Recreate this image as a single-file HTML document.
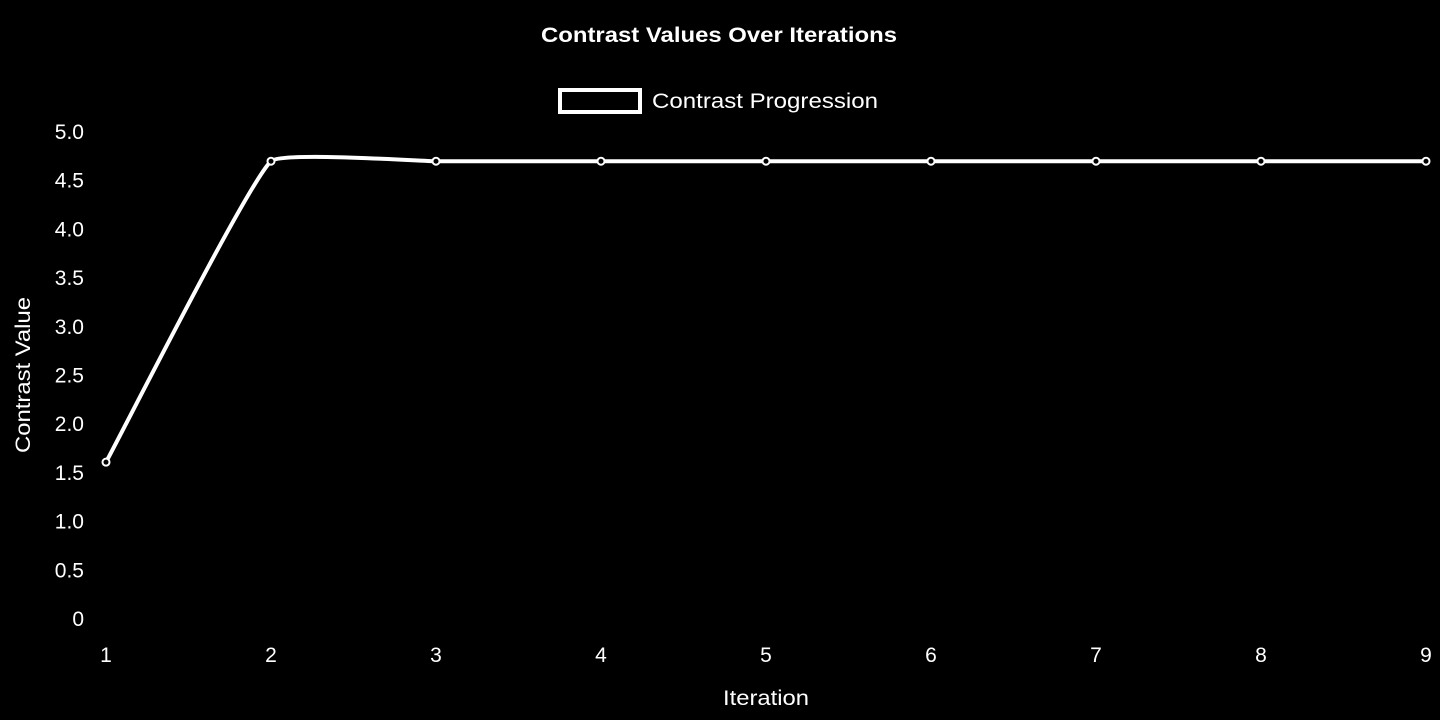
<!DOCTYPE html>
<html><head><meta charset="utf-8"><style>
html,body{margin:0;padding:0;background:#000;width:1440px;height:720px;overflow:hidden}
svg{display:block;font-family:"Liberation Sans",Arial,sans-serif}
</style></head><body>
<svg id="chart" width="1440" height="720">
<rect width="1440" height="720" fill="#000"/>
<text x="541" y="42" textLength="356" lengthAdjust="spacingAndGlyphs" fill="#fff" font-size="21" font-weight="bold">Contrast Values Over Iterations</text>
<g>
<rect x="560" y="90" width="80" height="22" fill="none" stroke="#fff" stroke-width="4"/>
<text x="652" y="108" textLength="226" lengthAdjust="spacingAndGlyphs" fill="#fff" font-size="21">Contrast Progression</text>
</g>
<text transform="translate(30,375) rotate(-90)" text-anchor="middle" textLength="156" lengthAdjust="spacingAndGlyphs" fill="#fff" font-size="21">Contrast Value</text>
<text x="766" y="705" text-anchor="middle" textLength="86" lengthAdjust="spacingAndGlyphs" fill="#fff" font-size="21">Iteration</text>
<g id="yticks"></g><g id="xticks"></g><g id="series"></g>
</svg>
<script>
const categories=[1,2,3,4,5,6,7,8,9];
const contrastValues=[1.61,4.7,4.7,4.7,4.7,4.7,4.7,4.7,4.7];
const yTickLabels=["0","0.5","1.0","1.5","2.0","2.5","3.0","3.5","4.0","4.5","5.0"];
const yTickValues=[0,0.5,1,1.5,2,2.5,3,3.5,4,4.5,5];
const X0=106,X1=1426,Y0=619,Y1=132,YMAX=5;
function xs(i){return X0+(X1-X0)*i/(categories.length-1);}
function ys(v){return Y0-(Y0-Y1)*v/YMAX;}
const NS="http://www.w3.org/2000/svg";
const yt=document.getElementById('yticks'),xt=document.getElementById('xticks'),sg=document.getElementById('series');
yTickValues.forEach((v,i)=>{const t=document.createElementNS(NS,'text');
t.setAttribute('x',84);t.setAttribute('y',ys(v)+7);t.setAttribute('text-anchor','end');t.setAttribute('fill','#fff');t.setAttribute('font-size','21');


t.textContent=yTickLabels[i];yt.appendChild(t);});
categories.forEach((c,i)=>{const t=document.createElementNS(NS,'text');
t.setAttribute('x',xs(i));t.setAttribute('y',662);t.setAttribute('text-anchor','middle');t.setAttribute('fill','#fff');t.setAttribute('font-size','21');


t.textContent=String(c);xt.appendChild(t);});
const pts=contrastValues.map((v,i)=>({x:xs(i),y:ys(v)}));
const T=0.1,cps=[];
for(let i=0;i<pts.length;i++){const p=pts[i-1]||pts[i],c=pts[i],n=pts[i+1]||pts[i];
const d01=Math.hypot(c.x-p.x,c.y-p.y),d12=Math.hypot(n.x-c.x,n.y-c.y);
const s=d01+d12||1,fa=T*d01/s,fb=T*d12/s;
cps.push({px:c.x-fa*(n.x-p.x),py:c.y-fa*(n.y-p.y),nx:c.x+fb*(n.x-p.x),ny:c.y+fb*(n.y-p.y)});}
let d=`M${pts[0].x},${pts[0].y}`;
for(let i=1;i<pts.length;i++){d+=` C${cps[i-1].nx},${cps[i-1].ny} ${cps[i].px},${cps[i].py} ${pts[i].x},${pts[i].y}`;}
const path=document.createElementNS(NS,'path');
path.setAttribute('d',d);path.setAttribute('fill','none');path.setAttribute('stroke','#fff');path.setAttribute('stroke-width','4');


sg.appendChild(path);
pts.forEach(p=>{const c=document.createElementNS(NS,'circle');
c.setAttribute('cx',p.x);c.setAttribute('cy',p.y);c.setAttribute('r',3.5);c.setAttribute('fill','#000');c.setAttribute('stroke','#fff');c.setAttribute('stroke-width','2');


sg.appendChild(c);});
</script>
</body></html>
